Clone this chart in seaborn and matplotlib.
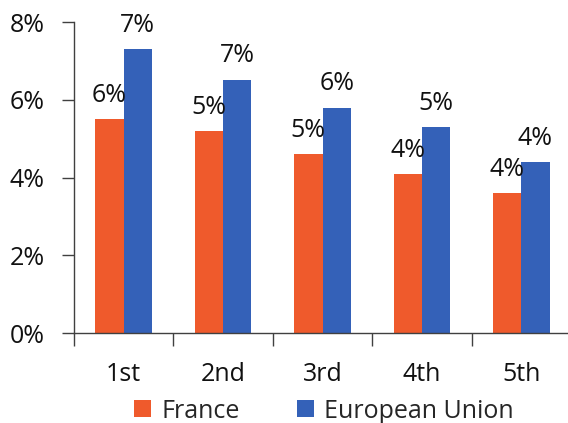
import math
import pandas as pd
import matplotlib
matplotlib.use("Agg")
import matplotlib.pyplot as plt
import seaborn as sns
from matplotlib.ticker import PercentFormatter, FixedLocator

# data (percent)
quintiles = ["1st", "2nd", "3rd", "4th", "5th"]
france = [5.5, 5.2, 4.6, 4.1, 3.6]
eu = [7.3, 6.52, 5.8, 5.3, 4.4]
series_names = ["France", "European Union"]
colors = ["#EF5A2C", "#3461B8"]

df = pd.DataFrame({
    "quintile": quintiles * 2,
    "value": france + eu,
    "series": [series_names[0]] * len(quintiles) + [series_names[1]] * len(quintiles),
})

sns.set_style("white")
plt.rcParams["font.family"] = ["Open Sans", "DejaVu Sans"]
FS = 18

fig = plt.figure(figsize=(5.68, 4.23), dpi=100)
ax = fig.add_axes([74 / 568, 90 / 423, 497 / 568, 311 / 423])

sns.barplot(data=df, x="quintile", y="value", hue="series", palette=colors,
            width=0.57, gap=0, saturation=1, linewidth=0, ax=ax, legend=True)

# value labels, rounded half-up
for cont in ax.containers:
    labels = [f"{math.floor(b.get_height() + 0.5)}%" for b in cont]
    ax.bar_label(cont, labels=labels, padding=8, fontsize=FS, color="#111111")

ax.set_ylim(0, 8)
ax.set_xlim(-0.5, 4.5)
ax.set_yticks([0, 2, 4, 6, 8])
ax.yaxis.set_major_formatter(PercentFormatter(decimals=0))
ax.set_xlabel("")
ax.set_ylabel("")

# x ticks at category boundaries, labels centered
ax.xaxis.set_minor_locator(FixedLocator([-0.5, 0.5, 1.5, 2.5, 3.5]))
ax.tick_params(axis="x", which="minor", bottom=True, length=9, width=1,
               color="#404040", direction="out")
ax.tick_params(axis="x", which="major", bottom=True, length=0, pad=21,
               labelsize=FS, labelcolor="#111111")
ax.tick_params(axis="y", left=True, length=9, width=1, color="#404040",
               direction="out", pad=12, labelsize=FS, labelcolor="#111111")

for s in ["top", "right"]:
    ax.spines[s].set_visible(False)
for s in ["left", "bottom"]:
    ax.spines[s].set_color("#404040")
    ax.spines[s].set_linewidth(1)

handles, labels = ax.get_legend_handles_labels()
ax.get_legend().remove()
fig.legend(handles, labels, loc="center", bbox_to_anchor=(324 / 568, 12 / 423),
           ncol=2, frameon=False, fontsize=FS, handlelength=0.68, handleheight=0.68,
           handletextpad=0.4, columnspacing=2.3, borderpad=0)

fig.savefig("out.png", dpi=100)
